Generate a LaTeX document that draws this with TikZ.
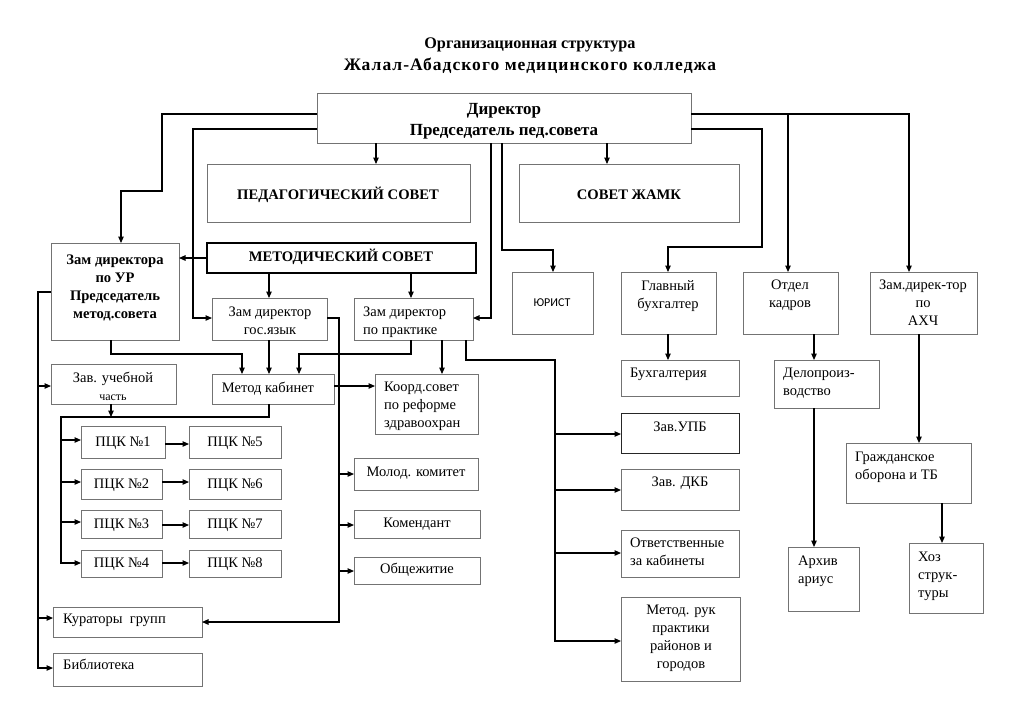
\documentclass[tikz,border=0pt]{standalone}
\usepackage{fontspec}
\setmainfont{Liberation Serif}
\newfontfamily\calfont{Carlito}
\newfontfamily\titlefont[LetterSpace=6]{Liberation Serif}
\usetikzlibrary{arrows.meta}
\newcommand\mkbox[6][]{\node[box,minimum width={(#5-#3)*1pt},minimum height={(#6-#4)*1pt},#1] (#2) at ({(#3+#5)/2},{(#4+#6)/2}) {};}
\begin{document}
\begin{tikzpicture}[x=1pt,y=-1pt,
  box/.style={draw=black!55,line width=0.9pt,inner sep=0pt,outer sep=0pt},
  con/.style={line width=1.1pt},
  arr/.style={con,-{Triangle[length=6.5pt,width=5.5pt]}},
  tx/.style={inner sep=0pt,font=\fontsize{14.5}{18}\selectfont},
  txb/.style={inner sep=0pt,font=\bfseries\fontsize{14.6}{18}\selectfont},
]
\useasboundingbox[fill=white] (0,0) rectangle (1024,724);
% title
\node[inner sep=0pt,font=\bfseries\fontsize{16.2}{18}\selectfont,anchor=mid] (title1) at (530,46) {Организационная структура};
\node[inner sep=0pt,font=\titlefont\bfseries\fontsize{17.5}{20}\selectfont,anchor=mid] (title2) at (530,68) {Жалал-Абадского медицинского колледжа};
% boxes
\mkbox{dir}{317}{93}{691}{143}
\mkbox{ped}{207}{164}{470}{222}
\mkbox{zhamk}{519}{164}{739}{222}
\mkbox{zur}{51}{243}{179}{340}
\mkbox[draw=black,line width=2.6pt]{ms}{207}{243}{476}{273}
\mkbox{gos}{212}{298}{327}{340}
\mkbox{prak}{354}{298}{473}{340}
\mkbox{jur}{512}{272}{593}{334}
\mkbox{gb}{621}{272}{716}{334}
\mkbox{ok}{743}{272}{838}{334}
\mkbox{ahch}{870}{272}{977}{334}
\mkbox{buh}{621}{360}{739}{396}
\mkbox{delo}{774}{360}{879}{408}
\mkbox[draw=black!85]{upb}{621}{413}{739}{453}
\mkbox{dkb}{621}{469}{739}{510}
\mkbox{otv}{621}{530}{739}{577}
\mkbox{mrp}{621}{597}{740}{681}
\mkbox{arh}{788}{547}{859}{611}
\mkbox{go}{846}{443}{971}{503}
\mkbox{hoz}{909}{543}{983}{613}
\mkbox{mk}{212}{374}{334}{404}
\mkbox{koord}{375}{374}{478}{434}
\mkbox{zuch}{51}{364}{176}{404}
\mkbox{p1}{81}{426}{165}{458}
\mkbox{p2}{81}{469}{162}{499}
\mkbox{p3}{81}{510}{162}{538}
\mkbox{p4}{81}{550}{162}{577}
\mkbox{p5}{189}{426}{281}{458}
\mkbox{p6}{189}{469}{281}{499}
\mkbox{p7}{189}{510}{281}{538}
\mkbox{p8}{189}{550}{281}{577}
\mkbox{mol}{354}{458}{478}{490}
\mkbox{kom}{354}{510}{480}{538}
\mkbox{obsh}{354}{557}{480}{584}
\mkbox{kur}{53}{607}{202}{637}
\mkbox{bib}{53}{653}{202}{686}
% texts
\node[txb,font=\bfseries\fontsize{17}{21}\selectfont,align=center,anchor=north] (tdir) at (504,103) {Директор\\Председатель пед.совета};
\node[txb,anchor=mid] (tped) at (338,197) {ПЕДАГОГИЧЕСКИЙ СОВЕТ};
\node[txb,anchor=mid] (tzhamk) at (629,197) {СОВЕТ ЖАМК};
\node[txb,align=center,anchor=north] (tzur) at (115,255) {Зам директора\\по УР\\Председатель\\метод.совета};
\node[txb,anchor=mid] (tms) at (341,259) {МЕТОДИЧЕСКИЙ СОВЕТ};
\node[tx,align=center,anchor=north] (tgos) at (270,307) {Зам директор\\гос.язык};
\node[tx,align=left,anchor=north west] (tprak) at (363,307) {Зам директор\\по практике};
\node[inner sep=0pt,font=\calfont\fontsize{12}{14}\selectfont,anchor=mid] (tjur) at (552,304) {ЮРИСТ};
\node[tx,align=center,anchor=north] (tgb) at (668,280) {Главный\\бухгалтер};
\node[tx,align=center,anchor=north] (tok) at (790,280) {Отдел\\кадров};
\node[tx,align=center,anchor=north] (tahch) at (923,280) {Зам.дирек-тор\\по\\АХЧ};
\node[tx,anchor=mid west] (tbuh) at (630,375) {Бухгалтерия};
\node[tx,align=left,anchor=north west] (tdelo) at (783,368) {Делопроиз-\\водство};
\node[tx,anchor=mid] (tupb) at (680,429) {Зав.УПБ};
\node[tx,anchor=mid] (tdkb) at (680,484) {Зав. ДКБ};
\node[tx,align=left,anchor=north west] (totv) at (630,538) {Ответственные\\за кабинеты};
\node[tx,align=center,anchor=north] (tmrp) at (681,605) {Метод. рук\\практики\\районов и\\городов};
\node[tx,align=left,anchor=north west] (tarh) at (798,556) {Архив\\ариус};
\node[tx,align=left,anchor=north west] (tgo) at (855,452) {Гражданское\\оборона и ТБ};
\node[tx,align=left,anchor=north west] (thoz) at (918,552) {Хоз\\струк-\\туры};
\node[tx,anchor=mid] (tmk) at (268,390) {Метод кабинет};
\node[tx,align=left,anchor=north west] (tkoord) at (384,382) {Коорд.совет\\по реформе\\здравоохран};
\node[tx,align=center,anchor=north] (tzuch) at (113,372) {Зав. учебной\\{\fontsize{12}{14}\selectfont часть}};
\foreach \n/\t in {p1/1,p2/2,p3/3,p4/4,p5/5,p6/6,p7/7,p8/8}
  \node[tx,anchor=mid] (t\n) at ([yshift=-2pt]\n.center) {ПЦК №\t};
\node[tx,anchor=mid] (tmol) at (416,474) {Молод. комитет};
\node[tx,anchor=mid] (tkom) at (417,525) {Комендант};
\node[tx,anchor=mid] (tobsh) at (417,571) {Общежитие};
\node[tx,anchor=mid west] (tkur) at (63,621) {Кураторы\ \ групп};
\node[tx,anchor=mid west] (tbib) at (63,667) {Библиотека};
% connectors
\draw[arr] (dir.west |- 0,114) -| (162,191) -| (zur.north -| 121,0);
\draw[arr] (dir.west |- 0,129) -| (193,318) -- (gos.west |- 0,318);
\draw[arr] (dir.south -| 376,0) -- (ped.north -| 376,0);
\draw[arr] (dir.south -| 491,0) |- (prak.east |- 0,318);
\draw[arr] (dir.south -| 502,0) |- (553,250) -- (jur.north -| 553,0);
\draw[arr] (dir.south -| 607,0) -- (zhamk.north -| 607,0);
\draw[arr] (dir.east |- 0,114) -| (ahch.north -| 909,0);
\draw[arr] (788,114) -- (ok.north -| 788,0);
\draw[arr] (dir.east |- 0,129) -| (762,247) -| (gb.north -| 668,0);
\draw[arr] (gb.south -| 668,0) -- (buh.north -| 668,0);
\draw[arr] (ok.south -| 814,0) -- (delo.north -| 814,0);
\draw[arr] (delo.south -| 814,0) -- (arh.north -| 814,0);
\draw[arr] (ahch.south -| 919,0) -- (go.north -| 919,0);
\draw[arr] (go.south -| 942,0) -- (hoz.north -| 942,0);
\draw[arr] (prak.south -| 466,0) |- (555,360) |- (mrp.west |- 0,641);
\draw[arr] (555,434) -- (upb.west |- 0,434);
\draw[arr] (555,490) -- (dkb.west |- 0,490);
\draw[arr] (555,553) -- (otv.west |- 0,553);
\draw[arr] (ms.west |- 0,258) -- (zur.east |- 0,258);
\draw[arr] (ms.south -| 269,0) -- (gos.north -| 269,0);
\draw[arr] (ms.south -| 411,0) -- (prak.north -| 411,0);
\draw[arr] (gos.east |- 0,318) -| (339,500) |- (kur.east |- 0,622);
\draw[arr] (339,474) -- (mol.west |- 0,474);
\draw[arr] (339,525) -- (kom.west |- 0,525);
\draw[arr] (339,571) -- (obsh.west |- 0,571);
\draw[arr] (zur.south -| 111,0) |- (242,354) -- (mk.north -| 242,0);
\draw[arr] (gos.south -| 269,0) -- (mk.north -| 269,0);
\draw[arr] (prak.south -| 411,0) |- (299,354) -- (mk.north -| 299,0);
\draw[arr] (prak.south -| 442,0) -- (koord.north -| 442,0);
\draw[arr] (mk.east |- 0,386) -- (koord.west |- 0,386);
\draw[arr] (zur.west |- 0,292) -| (38,500) |- (bib.west |- 0,668);
\draw[arr] (38,386) -- (zuch.west |- 0,386);
\draw[arr] (38,618) -- (kur.west |- 0,618);
\draw[arr] (zuch.south -| 111,0) -- (111,417);
\draw[arr] (mk.south -| 269,0) |- (61,417) |- (p4.west |- 0,563);
\draw[arr] (61,440) -- (p1.west |- 0,440);
\draw[arr] (61,482) -- (p2.west |- 0,482);
\draw[arr] (61,522) -- (p3.west |- 0,522);
\draw[arr] (p1.east |- 0,444) -- (p5.west |- 0,444);
\draw[arr] (p2.east |- 0,482) -- (p6.west |- 0,482);
\draw[arr] (p3.east |- 0,525) -- (p7.west |- 0,525);
\draw[arr] (p4.east |- 0,563) -- (p8.west |- 0,563);
\end{tikzpicture}
\end{document}
